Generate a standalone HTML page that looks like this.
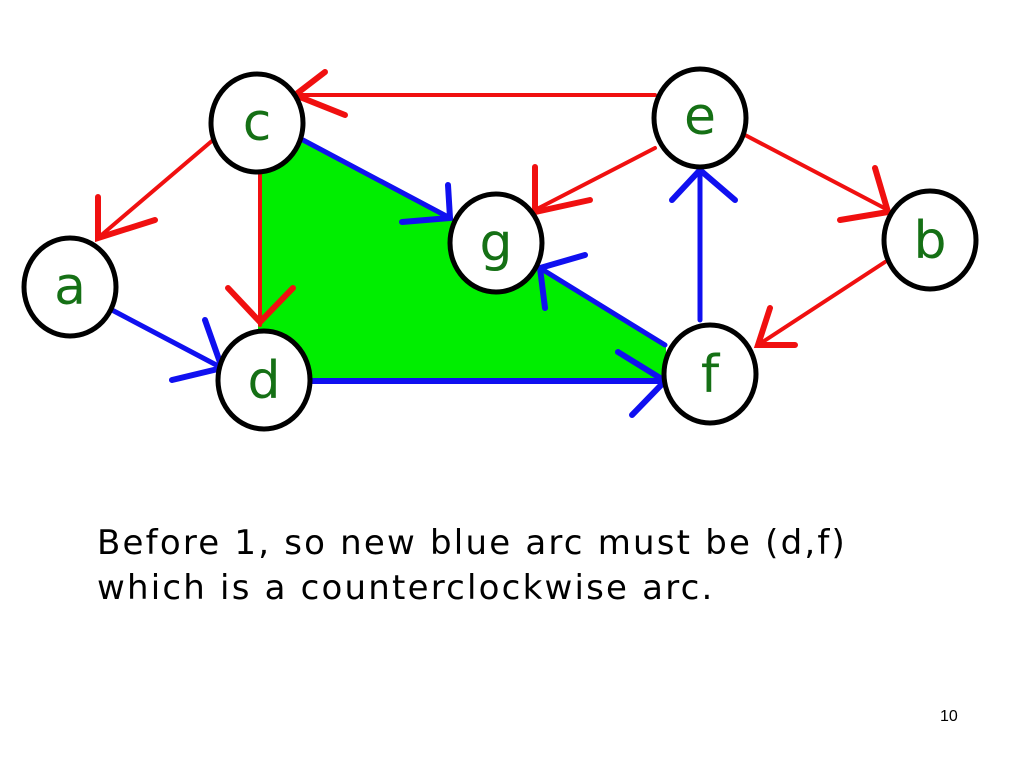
<!DOCTYPE html>
<html><head><meta charset="utf-8"><style>
body{margin:0;width:1024px;height:768px;background:#fff;overflow:hidden;position:relative;font-family:"DejaVu Sans",sans-serif}
.t{position:absolute;left:97px;font-size:34px;color:#000;line-height:45px;letter-spacing:2.2px;white-space:nowrap}
</style></head><body>
<svg width="1024" height="768" style="position:absolute;left:0;top:0">
<polygon points="258,150 300,138 455,222 540,268 666,345 666,383 300,383 258,345" fill="#00ee00"/>
<g stroke-linecap="round" fill="none">
<g stroke="#f01010" stroke-width="4">
<line x1="655" y1="95" x2="295" y2="95"/><polyline points="325,72 295,95 345,115" stroke-width="6"/>
<line x1="213" y1="140" x2="98" y2="238"/><polyline points="98,197 98,238 155,220" stroke-width="6"/>
<line x1="260" y1="170" x2="260" y2="325"/><polyline points="228,288 260,322 293,288" stroke-width="6"/>
<line x1="655" y1="148" x2="535" y2="210"/><polyline points="535,167 535,212 590,200" stroke-width="6"/>
<line x1="745" y1="135" x2="888" y2="210"/><polyline points="875,168 888,212 840,220" stroke-width="6"/>
<line x1="885" y1="262" x2="758" y2="345"/><polyline points="770,308 758,345 795,345" stroke-width="6"/>
</g>
<g stroke="#1010f0" stroke-width="5">
<line x1="112" y1="310" x2="222" y2="368"/><polyline points="205,320 222,368 172,380" stroke-width="6"/>
<line x1="303" y1="140" x2="450" y2="218"/><polyline points="448,185 450,218 402,222" stroke-width="6"/>
<line x1="700" y1="320" x2="700" y2="170"/><polyline points="672,200 700,170 735,200" stroke-width="6"/>
<line x1="665" y1="345" x2="540" y2="268"/><polyline points="585,255 540,268 545,308" stroke-width="6"/>
<line x1="310" y1="381" x2="665" y2="381" stroke-width="6"/><polyline points="618,352 665,381 632,415" stroke-width="6"/>
</g>
</g>
<g fill="#fff" stroke="#000" stroke-width="5">
<ellipse cx="257" cy="123" rx="46" ry="49"/>
<ellipse cx="700" cy="118" rx="46" ry="49"/>
<ellipse cx="496" cy="243" rx="46" ry="49"/>
<ellipse cx="70" cy="287" rx="46" ry="49"/>
<ellipse cx="930" cy="240" rx="46" ry="49"/>
<ellipse cx="264" cy="380" rx="46" ry="49"/>
<ellipse cx="710" cy="374" rx="46" ry="49"/>
</g>
<g fill="#157015" font-family="DejaVu Sans, sans-serif" font-size="52" text-anchor="middle">
<text x="257" y="140">c</text>
<text x="700" y="134">e</text>
<text x="496" y="260">g</text>
<text x="70" y="304">a</text>
<text x="930" y="258">b</text>
<text x="264" y="398">d</text>
<text x="710" y="392">f</text>
</g>
</svg>
<div class="t" style="top:521px">Before 1, so new blue arc must be (d,f)</div>
<div class="t" style="top:566px">which is a counterclockwise arc.</div>
<div style="position:absolute;left:940px;top:708px;font-size:16px;font-family:'Liberation Sans',sans-serif">10</div>
</body></html>
